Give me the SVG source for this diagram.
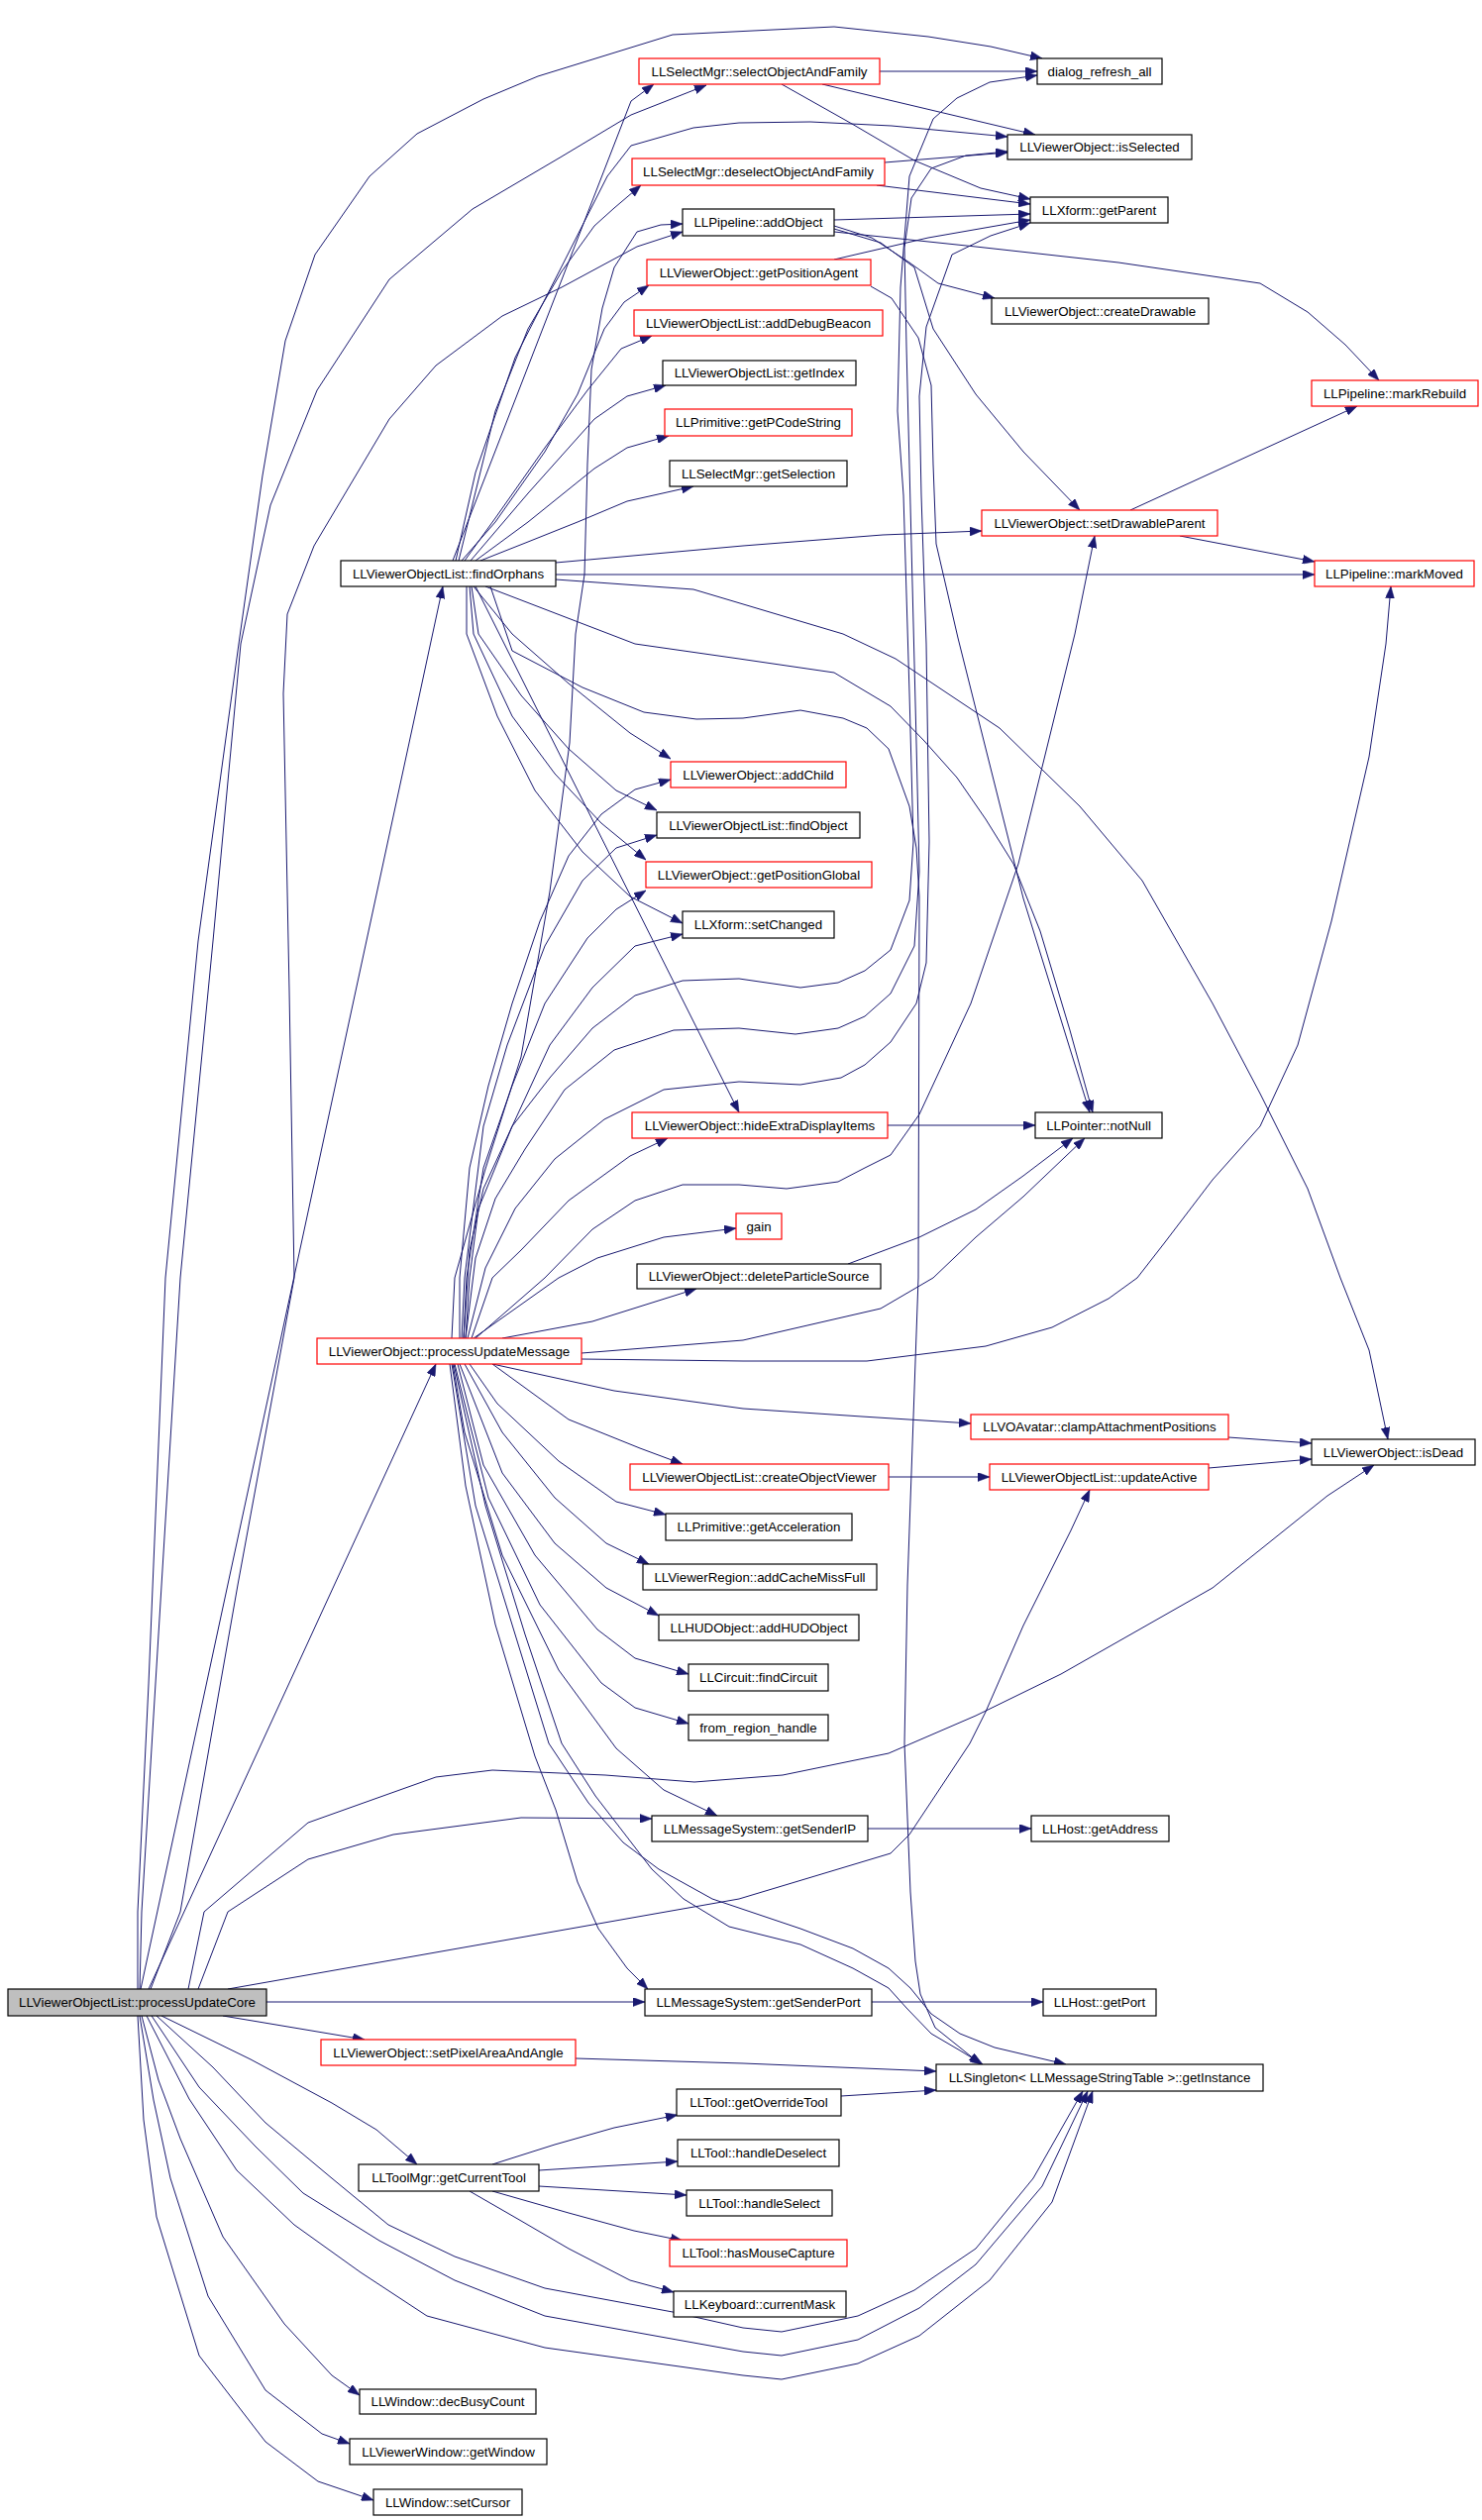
<svg xmlns="http://www.w3.org/2000/svg" width="1496" height="2544" viewBox="0 0 1496 2544">
<defs>
<marker id="a" markerUnits="userSpaceOnUse" markerWidth="12" markerHeight="9" refX="12" refY="4.5" orient="auto"><path d="M0,0 L12,4.5 L0,9 z" fill="#191970" stroke="#191970" stroke-width="0.5"/></marker>
<style>
.nd rect{fill:#ffffff;stroke:#000000;stroke-width:1.2}
.nd.red rect{stroke:#ff0000}
.nd.root rect{fill:#bfbfbf}
.nd text{font-family:"Liberation Sans",Arial,sans-serif;font-size:13.3px;fill:#000000;text-anchor:middle}
#edges path{fill:none;stroke:#191970;stroke-width:1;stroke-linejoin:round;marker-end:url(#a)}
</style>
</defs>
<rect x="0" y="0" width="1496" height="2544" fill="#ffffff"/>
<g id="edges">
<path d="M142,2008 L447,592"/>
<path d="M150,2008 L440,1377"/>
<path d="M139,2008 L139,1930 L150,1700 L167,1290 L200,950 L241,650 L265,480 L288,344 L318,257 L373,178 L421,135 L488,100 L543,77 L679,35 L842,27 L937,37 L1000,47 L1052,59"/>
<path d="M141,2008 L143,1930 L160,1650 L182,1290 L215,950 L243,650 L273,510 L320,394 L393,282 L477,211 L567,158 L637,116 L713,86"/>
<path d="M152,2008 L182,1930 L240,1600 L297,1290 L292,1000 L286,700 L290,620 L317,551 L393,423 L440,369 L507,319 L567,290 L643,249 L689,234"/>
<path d="M190,2008 L206,1930 L311,1840 L440,1794 L497,1787 L611,1792 L701,1799 L790,1792 L897,1770 L985,1732 L1071,1690 L1224,1603 L1340,1510 L1387,1479"/>
<path d="M200,2008 L230,1930 L311,1877 L397,1852 L526,1835 L658,1836"/>
<path d="M230,2008 L746,1917 L899,1871 L918,1852 L979,1760 L995,1728 L1033,1641 L1081,1545 L1100,1504"/>
<path d="M269,2021 L651,2021"/>
<path d="M225,2035 L368,2059"/>
<path d="M163,2035 L253,2079 L335,2123 L380,2150 L421,2185"/>
<path d="M158,2035 L215,2087 L268,2143 L335,2199 L392,2246 L459,2278 L550,2310 L679,2334 L750,2350 L789,2354 L866,2338 L923,2312 L985,2270 L1043,2199 L1093,2111"/>
<path d="M153,2035 L201,2107 L258,2167 L306,2214 L383,2262 L459,2302 L550,2338 L750,2374 L789,2378 L866,2362 L928,2330 L985,2286 L1052,2207 L1098,2111"/>
<path d="M148,2035 L191,2119 L239,2191 L297,2246 L364,2294 L431,2338 L550,2370 L750,2398 L789,2402 L866,2386 L928,2358 L999,2302 L1062,2223 L1103,2111"/>
<path d="M143,2035 L160,2100 L182,2159 L225,2258 L287,2346 L335,2398 L363,2418"/>
<path d="M141,2035 L155,2120 L172,2199 L210,2318 L268,2413 L325,2457 L353,2467"/>
<path d="M139,2035 L145,2140 L158,2238 L201,2378 L268,2465 L321,2505 L377,2524"/>
<path d="M457,566 L637,102 L660,85"/>
<path d="M460,566 L480,477 L520,361 L567,269 L613,178 L637,147 L700,129 L746,124 L818,123 L900,127 L1017,138"/>
<path d="M463,566 L500,415 L533,332 L567,274 L600,228 L620,210 L647,187"/>
<path d="M466,566 L500,527 L550,456 L583,398 L610,332 L630,305 L655,288"/>
<path d="M469,566 L500,523 L550,452 L593,394 L627,352 L658,339"/>
<path d="M475,566 L533,498 L600,423 L633,400 L672,389"/>
<path d="M480,566 L533,527 L600,473 L633,452 L675,440"/>
<path d="M485,566 L533,547 L583,527 L633,506 L700,491"/>
<path d="M561,568 L750,551 L891,540 L991,536"/>
<path d="M561,580 L1327,580"/>
<path d="M561,585 L700,595 L851,640 L904,665 L1009,735 L1090,814 L1153,889 L1224,1013 L1272,1104 L1320,1200 L1353,1290 L1382,1363 L1401,1453"/>
<path d="M490,592 L641,650 L746,665 L842,679 L899,713 L933,748 L966,785 L995,827 L1023,872 L1050,940 L1080,1040 L1103,1123"/>
<path d="M495,592 L517,657 L588,694 L650,719 L703,726 L750,725 L808,717 L851,725 L875,735 L897,756 L918,814 L925,856 L928,905 L927,1290 L916,1600 L913,1760 L915,1810 L919,1910 L924,1980 L929,2013 L944,2047 L969,2067 L990,2084"/>
<path d="M478,592 L517,640 L574,690 L636,740 L677,766"/>
<path d="M476,592 L483,640 L526,702 L574,756 L622,798 L663,818"/>
<path d="M474,592 L478,640 L517,723 L560,781 L607,831 L652,868"/>
<path d="M471,592 L471,640 L502,723 L540,798 L588,860 L636,905 L689,932"/>
<path d="M480,592 L746,1123"/>
<path d="M456,1351 L459,1290 L490,1180 L526,1067 L555,900 L575,750 L581,640 L590,580 L593,468 L597,373 L608,311 L620,270 L643,234 L667,227 L689,226"/>
<path d="M468,1351 L474,1262 L488,1200 L517,1137 L555,1088 L598,1038 L641,1005 L689,990 L746,988 L808,997 L846,992 L873,980 L899,959 L918,909 L922,850 L918,700 L912,500 L906,415 L909,290 L918,178 L942,120 L966,99 L999,83 L1047,76"/>
<path d="M470,1351 L480,1270 L500,1210 L530,1160 L570,1100 L620,1060 L680,1040 L746,1038 L803,1044 L846,1038 L873,1026 L899,1003 L923,955 L928,880 L925,750 L920,550 L915,350 L913,250 L920,200 L940,170 L975,157 L1017,153"/>
<path d="M472,1351 L490,1280 L520,1220 L560,1170 L610,1130 L670,1100 L746,1092 L808,1095 L849,1088 L873,1075 L899,1052 L925,1013 L935,972 L938,850 L935,650 L930,500 L928,400 L935,330 L961,257 L1000,238 L1040,225"/>
<path d="M480,1351 L550,1290 L598,1241 L641,1212 L689,1196 L746,1196 L794,1200 L846,1193 L873,1179 L899,1166 L928,1125 L980,1013 L1028,872 L1085,640 L1105,541"/>
<path d="M464,1351 L464,1290 L474,1179 L493,1096 L517,1013 L545,930 L574,864 L607,822 L641,797 L677,787"/>
<path d="M466,1351 L469,1290 L488,1137 L512,1055 L550,955 L588,889 L622,856 L663,843"/>
<path d="M468,1351 L471,1290 L488,1179 L517,1096 L550,1013 L593,947 L622,918 L652,899"/>
<path d="M470,1351 L474,1290 L483,1220 L517,1137 L555,1055 L598,997 L641,955 L689,943"/>
<path d="M476,1351 L497,1290 L526,1262 L574,1212 L636,1167 L674,1149"/>
<path d="M478,1351 L564,1290 L603,1270 L670,1249 L743,1240"/>
<path d="M507,1351 L598,1334 L703,1301"/>
<path d="M587,1366 L750,1353 L889,1321 L942,1290 L985,1249 L1033,1208 L1095,1149"/>
<path d="M587,1372 L750,1374 L875,1374 L995,1359 L1062,1340 L1119,1311 L1148,1290 L1176,1254 L1224,1191 L1272,1137 L1310,1055 L1344,930 L1382,764 L1399,650 L1404,592"/>
<path d="M497,1377 L620,1404 L750,1422 L870,1430 L980,1437"/>
<path d="M497,1377 L574,1433 L646,1462 L689,1478"/>
<path d="M474,1377 L502,1417 L564,1475 L622,1516 L672,1529"/>
<path d="M469,1377 L507,1446 L560,1512 L612,1558 L655,1579"/>
<path d="M464,1377 L507,1487 L560,1558 L612,1603 L665,1631"/>
<path d="M462,1377 L488,1479 L540,1570 L603,1645 L641,1674 L695,1690"/>
<path d="M459,1377 L493,1512 L545,1620 L607,1699 L641,1724 L695,1740"/>
<path d="M457,1377 L469,1446 L507,1570 L564,1686 L622,1765 L670,1807 L724,1833"/>
<path d="M454,1377 L470,1500 L500,1640 L530,1740 L540,1773 L561,1827 L583,1900 L604,1947 L633,1987 L654,2008"/>
<path d="M456,1377 L480,1520 L520,1650 L554,1760 L594,1820 L629,1860 L665,1887 L719,1917 L808,1947 L861,1967 L897,1987 L919,2007 L940,2033 L969,2053 L1004,2067 L1076,2084"/>
<path d="M458,1377 L490,1520 L530,1650 L567,1760 L601,1813 L658,1887 L690,1917 L736,1945 L808,1963 L861,1987 L897,2007 L915,2027 L940,2053 L969,2070 L992,2084"/>
<path d="M888,72 L1047,72"/>
<path d="M830,85 L1045,136"/>
<path d="M789,85 L860,125 L923,162 L990,190 L1040,201"/>
<path d="M893,164 L1017,154"/>
<path d="M885,187 L1040,206"/>
<path d="M842,222 L1040,216"/>
<path d="M842,228 L880,240 L918,265 L947,286 L1004,301"/>
<path d="M842,234 L985,249 L1129,265 L1272,286 L1320,315 L1358,348 L1392,384"/>
<path d="M842,231 L889,245 L923,270 L942,332 L985,398 L1033,456 L1090,515"/>
<path d="M842,262 L937,240 L1040,222"/>
<path d="M879,289 L900,301 L927,341 L940,389 L942,469 L945,549 L967,644 L1033,907 L1100,1123"/>
<path d="M1141,515 L1370,410"/>
<path d="M1191,541 L1327,567"/>
<path d="M896,1136 L1045,1136"/>
<path d="M856,1276 L928,1249 L985,1221 L1033,1187 L1083,1149"/>
<path d="M1240,1451 L1324,1457"/>
<path d="M1220,1482 L1324,1473"/>
<path d="M897,1491 L999,1491"/>
<path d="M876,1846 L1041,1846"/>
<path d="M880,2021 L1053,2021"/>
<path d="M581,2078 L750,2083 L945,2091"/>
<path d="M849,2116 L945,2110"/>
<path d="M497,2185 L560,2165 L620,2148 L684,2135"/>
<path d="M544,2191 L684,2182"/>
<path d="M544,2207 L693,2216"/>
<path d="M497,2212 L574,2234 L640,2252 L689,2262"/>
<path d="M474,2212 L526,2242 L574,2270 L636,2302 L680,2314"/>
</g>
<g id="n_core" class="nd root"><rect x="8" y="2008" width="261" height="27"/><text x="138.5" y="2026">LLViewerObjectList::processUpdateCore</text></g>
<g id="n_findOrphans" class="nd"><rect x="344" y="566" width="217" height="26"/><text x="452.5" y="583.5">LLViewerObjectList::findOrphans</text></g>
<g id="n_processUpdateMessage" class="nd red"><rect x="320" y="1351" width="267" height="26"/><text x="453.5" y="1368.5">LLViewerObject::processUpdateMessage</text></g>
<g id="n_selectObjectAndFamily" class="nd red"><rect x="645" y="59" width="243" height="26"/><text x="766.5" y="76.5">LLSelectMgr::selectObjectAndFamily</text></g>
<g id="n_dialog_refresh_all" class="nd"><rect x="1047" y="59" width="126" height="26"/><text x="1110" y="76.5">dialog_refresh_all</text></g>
<g id="n_isSelected" class="nd"><rect x="1017" y="136" width="186" height="25"/><text x="1110" y="153">LLViewerObject::isSelected</text></g>
<g id="n_deselectObjectAndFamily" class="nd red"><rect x="638" y="160" width="255" height="27"/><text x="765.5" y="178">LLSelectMgr::deselectObjectAndFamily</text></g>
<g id="n_getParent" class="nd"><rect x="1040" y="199" width="139" height="26"/><text x="1109.5" y="216.5">LLXform::getParent</text></g>
<g id="n_addObject" class="nd"><rect x="689" y="211" width="153" height="27"/><text x="765.5" y="229">LLPipeline::addObject</text></g>
<g id="n_getPositionAgent" class="nd red"><rect x="653" y="262" width="226" height="26"/><text x="766" y="279.5">LLViewerObject::getPositionAgent</text></g>
<g id="n_createDrawable" class="nd"><rect x="1001" y="301" width="219" height="26"/><text x="1110.5" y="318.5">LLViewerObject::createDrawable</text></g>
<g id="n_addDebugBeacon" class="nd red"><rect x="640" y="313" width="251" height="26"/><text x="765.5" y="330.5">LLViewerObjectList::addDebugBeacon</text></g>
<g id="n_getIndex" class="nd"><rect x="669" y="364" width="195" height="25"/><text x="766.5" y="381">LLViewerObjectList::getIndex</text></g>
<g id="n_markRebuild" class="nd red"><rect x="1324" y="384" width="168" height="26"/><text x="1408" y="401.5">LLPipeline::markRebuild</text></g>
<g id="n_getPCodeString" class="nd red"><rect x="671" y="413" width="189" height="27"/><text x="765.5" y="431">LLPrimitive::getPCodeString</text></g>
<g id="n_getSelection" class="nd"><rect x="676" y="465" width="179" height="26"/><text x="765.5" y="482.5">LLSelectMgr::getSelection</text></g>
<g id="n_setDrawableParent" class="nd red"><rect x="991" y="515" width="238" height="26"/><text x="1110" y="532.5">LLViewerObject::setDrawableParent</text></g>
<g id="n_markMoved" class="nd red"><rect x="1327" y="566" width="161" height="26"/><text x="1407.5" y="583.5">LLPipeline::markMoved</text></g>
<g id="n_addChild" class="nd red"><rect x="677" y="769" width="177" height="26"/><text x="765.5" y="786.5">LLViewerObject::addChild</text></g>
<g id="n_findObject" class="nd"><rect x="663" y="820" width="205" height="26"/><text x="765.5" y="837.5">LLViewerObjectList::findObject</text></g>
<g id="n_getPositionGlobal" class="nd red"><rect x="652" y="870" width="228" height="26"/><text x="766" y="887.5">LLViewerObject::getPositionGlobal</text></g>
<g id="n_setChanged" class="nd"><rect x="689" y="920" width="153" height="27"/><text x="765.5" y="938">LLXform::setChanged</text></g>
<g id="n_hideExtraDisplayItems" class="nd red"><rect x="638" y="1123" width="258" height="26"/><text x="767" y="1140.5">LLViewerObject::hideExtraDisplayItems</text></g>
<g id="n_notNull" class="nd"><rect x="1045" y="1123" width="128" height="26"/><text x="1109" y="1140.5">LLPointer::notNull</text></g>
<g id="n_gain" class="nd red"><rect x="743" y="1225" width="46" height="26"/><text x="766" y="1242.5">gain</text></g>
<g id="n_deleteParticleSource" class="nd"><rect x="643" y="1276" width="246" height="25"/><text x="766" y="1293">LLViewerObject::deleteParticleSource</text></g>
<g id="n_clampAttachmentPositions" class="nd red"><rect x="980" y="1428" width="260" height="25"/><text x="1110" y="1445">LLVOAvatar::clampAttachmentPositions</text></g>
<g id="n_isDead" class="nd"><rect x="1324" y="1453" width="165" height="26"/><text x="1406.5" y="1470.5">LLViewerObject::isDead</text></g>
<g id="n_createObjectViewer" class="nd red"><rect x="636" y="1478" width="261" height="26"/><text x="766.5" y="1495.5">LLViewerObjectList::createObjectViewer</text></g>
<g id="n_updateActive" class="nd red"><rect x="999" y="1478" width="221" height="26"/><text x="1109.5" y="1495.5">LLViewerObjectList::updateActive</text></g>
<g id="n_getAcceleration" class="nd"><rect x="672" y="1528" width="188" height="27"/><text x="766" y="1546">LLPrimitive::getAcceleration</text></g>
<g id="n_addCacheMissFull" class="nd"><rect x="649" y="1579" width="236" height="26"/><text x="767" y="1596.5">LLViewerRegion::addCacheMissFull</text></g>
<g id="n_addHUDObject" class="nd"><rect x="665" y="1630" width="202" height="26"/><text x="766" y="1647.5">LLHUDObject::addHUDObject</text></g>
<g id="n_findCircuit" class="nd"><rect x="695" y="1680" width="141" height="27"/><text x="765.5" y="1698">LLCircuit::findCircuit</text></g>
<g id="n_from_region_handle" class="nd"><rect x="695" y="1731" width="141" height="26"/><text x="765.5" y="1748.5">from_region_handle</text></g>
<g id="n_getSenderIP" class="nd"><rect x="658" y="1833" width="218" height="26"/><text x="767" y="1850.5">LLMessageSystem::getSenderIP</text></g>
<g id="n_getAddress" class="nd"><rect x="1041" y="1833" width="139" height="26"/><text x="1110.5" y="1850.5">LLHost::getAddress</text></g>
<g id="n_getSenderPort" class="nd"><rect x="651" y="2008" width="229" height="27"/><text x="765.5" y="2026">LLMessageSystem::getSenderPort</text></g>
<g id="n_getPort" class="nd"><rect x="1053" y="2008" width="114" height="27"/><text x="1110" y="2026">LLHost::getPort</text></g>
<g id="n_setPixelAreaAndAngle" class="nd red"><rect x="324" y="2059" width="257" height="26"/><text x="452.5" y="2076.5">LLViewerObject::setPixelAreaAndAngle</text></g>
<g id="n_getInstance" class="nd"><rect x="945" y="2084" width="330" height="27"/><text x="1110" y="2102">LLSingleton&lt; LLMessageStringTable &gt;::getInstance</text></g>
<g id="n_getOverrideTool" class="nd"><rect x="683" y="2109" width="166" height="27"/><text x="766" y="2127">LLTool::getOverrideTool</text></g>
<g id="n_getCurrentTool" class="nd"><rect x="362" y="2185" width="182" height="27"/><text x="453" y="2203">LLToolMgr::getCurrentTool</text></g>
<g id="n_handleDeselect" class="nd"><rect x="684" y="2160" width="163" height="27"/><text x="765.5" y="2178">LLTool::handleDeselect</text></g>
<g id="n_handleSelect" class="nd"><rect x="693" y="2211" width="147" height="26"/><text x="766.5" y="2228.5">LLTool::handleSelect</text></g>
<g id="n_hasMouseCapture" class="nd red"><rect x="676" y="2261" width="179" height="27"/><text x="765.5" y="2279">LLTool::hasMouseCapture</text></g>
<g id="n_currentMask" class="nd"><rect x="680" y="2313" width="174" height="26"/><text x="767" y="2330.5">LLKeyboard::currentMask</text></g>
<g id="n_decBusyCount" class="nd"><rect x="363" y="2412" width="178" height="25"/><text x="452" y="2429">LLWindow::decBusyCount</text></g>
<g id="n_getWindow" class="nd"><rect x="353" y="2462" width="199" height="26"/><text x="452.5" y="2479.5">LLViewerWindow::getWindow</text></g>
<g id="n_setCursor" class="nd"><rect x="377" y="2513" width="150" height="26"/><text x="452" y="2530.5">LLWindow::setCursor</text></g>
</svg>
